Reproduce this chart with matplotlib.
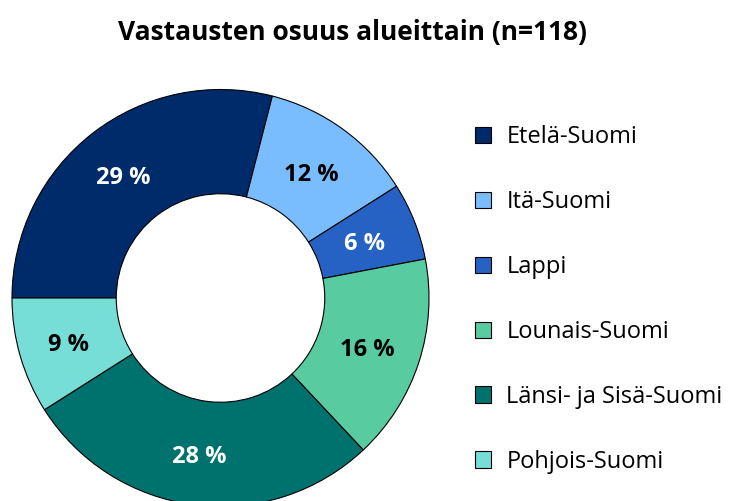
import matplotlib
matplotlib.use("Agg")
import matplotlib.pyplot as plt
from matplotlib.transforms import offset_copy

regions = ["Etelä-Suomi", "Itä-Suomi", "Lappi", "Lounais-Suomi", "Länsi- ja Sisä-Suomi", "Pohjois-Suomi"]
shares = [29, 12, 6, 16, 28, 9]
colors = ["#002B6B", "#7ABDFF", "#2662C3", "#59CBA1", "#00726D", "#76DED7"]
label_colors = ["white", "black", "white", "black", "white", "black"]
title = "Vastausten osuus alueittain (n=118)"

plt.rcParams['font.family'] = ['Open Sans', 'DejaVu Sans']

W, H = 740, 501
fig = plt.figure(figsize=(W / 100, H / 100), dpi=100)

cx, cy, r = 220.5, 298, 208.5
ax = fig.add_axes([(cx - r) / W, (H - cy - r) / H, 2 * r / W, 2 * r / H])

wedges, texts, autotexts = ax.pie(
    shares, colors=colors, startangle=180, counterclock=False,
    radius=1.0, autopct=lambda p: f"{p:.0f} %", pctdistance=0.75,
    wedgeprops=dict(width=0.5, edgecolor="black", linewidth=0.8),
    textprops=dict(fontsize=17, fontweight="bold"),
)
for t, c in zip(autotexts, label_colors):
    t.set_color(c)
    t.set_transform(offset_copy(ax.transData, fig=fig, x=-1.5, y=-3.5, units="dots"))
ax.set_xlim(-1, 1)
ax.set_ylim(-1, 1)
ax.set_aspect("equal")
ax.axis("off")

fig.text(352 / W, 1 - 40 / H, title, ha="center", va="baseline",
         fontsize=19, fontweight="bold")

leg = fig.legend(wedges, regions, loc="upper left",
                 bbox_to_anchor=(475 / W, 1 - 125 / H),
                 frameon=False, fontsize=17,
                 handlelength=0.68, handleheight=0.68,
                 handletextpad=0.65, labelspacing=1.735,
                 borderpad=0, borderaxespad=0)

fig.savefig("out.png", dpi=100)
